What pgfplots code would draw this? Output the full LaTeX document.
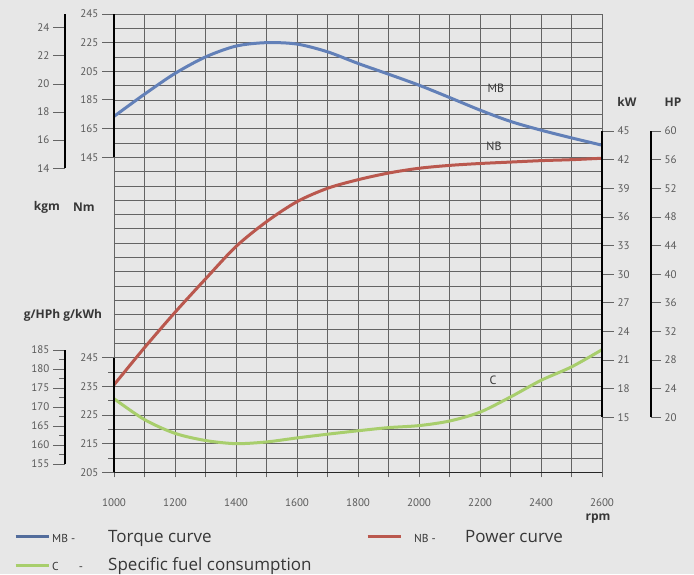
\documentclass[border=0pt]{standalone}
\usepackage{fontspec}
\setmainfont{Open Sans}
\newfontfamily\din{PT Sans}
\usepackage{pgfplots}
\pgfplotsset{compat=1.18}

\definecolor{bg}{RGB}{231,231,231}
\definecolor{gridc}{RGB}{100,100,100}
\definecolor{txt}{RGB}{90,90,90}
\definecolor{lbl}{RGB}{55,55,55}
\definecolor{mbblue}{RGB}{98,128,184}
\definecolor{nbred}{RGB}{186,88,78}
\definecolor{cgreen}{RGB}{168,206,108}

\pgfplotsset{
  /pgf/number format/assume math mode=true,
  /pgf/number format/set thousands separator={},
  tickfont/.style={font=\din\fontsize{11}{12}\selectfont, text=txt},
  overlayax/.style={scale only axis, at={(114pt,101.7pt)}, anchor=south west,
    width=488pt, height=458.3pt, xmin=1000, xmax=2600, axis lines=none},
  scaleax/.style={scale only axis, width=1pt, xmin=0, xmax=1, xtick=\empty,
    axis x line=none, tick align=outside,
    axis line style={black, line width=1.3pt},
    major tick style={gridc, line width=0.9pt},
    minor tick style={gridc, line width=0.9pt},
    major tick length=12pt, minor tick length=6pt,
    yticklabel style={tickfont}},
}

\begin{document}
\begin{tikzpicture}
\fill[bg] (0,0) rectangle (694pt,574pt);

% main grid + torque curve (Nm)
\begin{axis}[
  scale only axis, at={(114pt,101.7pt)}, anchor=south west,
  width=488pt, height=458.3pt,
  xmin=1000, xmax=2600, ymin=-75, ymax=245,
  xtick={1000,1100,...,2600}, xticklabels={},
  ytick={-75,-65,...,245}, yticklabels={},
  grid=major, major grid style={gridc, line width=0.7pt},
  axis line style={gridc, line width=0.7pt},
  major tick length=0pt, minor tick length=0pt,
  legend columns=2, legend cell align=left,
  legend style={at={(-0.211,-0.117)}, anchor=north west, draw=none, fill=none,
    font=\fontsize{17}{19}\selectfont, text=lbl, row sep=10pt},
  legend image code/.code={\draw[#1, line width=3pt] (0pt,0pt) -- (33pt,0pt);},
]
\addplot[mbblue, line width=3pt, smooth, tension=0.5, forget plot] coordinates {
  (1000,173.5) (1100,189.0) (1200,203.5) (1300,215.0) (1400,222.6)
  (1500,225.0) (1600,224.0) (1700,218.6) (1800,210.5) (1900,203.0)
  (2000,195.3) (2100,186.7) (2200,177.9) (2300,170.0) (2400,163.9)
  (2500,158.5) (2600,153.4)};
\node[font=\din\fontsize{12}{14}\selectfont, text=lbl] at (axis cs:2252,193.3) {MB};
\node[font=\din\fontsize{12}{14}\selectfont, text=lbl] at (axis cs:2246,152.7) {NB};
\addlegendimage{mbblue!85!black}
\addlegendentry{\makebox[56pt][l]{\din\fontsize{11.5}{12}\selectfont MB -}\makebox[256pt][l]{Torque curve}}
\addlegendimage{nbred}
\addlegendentry{\hspace{10pt}\makebox[51pt][l]{\din\fontsize{11.5}{12}\selectfont NB -}Power curve}
\addlegendimage{cgreen}
\addlegendentry{\makebox[56pt][l]{\din\fontsize{11.5}{12}\selectfont C\hspace{20pt}-}Specific fuel consumption}
\end{axis}

% rpm axis line, ticks and labels
\begin{axis}[scale only axis, at={(114pt,101.7pt)}, anchor=south west,
  width=488pt, height=10pt, xmin=1000, xmax=2600, ymin=0, ymax=1,
  axis y line=none, axis x line*=bottom,
  axis line style={black!85, line width=1pt},
  xtick={1000,1200,...,2600}, minor xtick={1100,1300,...,2500},
  tick align=outside, major tick length=5pt, minor tick length=5pt,
  tick style={gridc, line width=0.8pt},
  xticklabel style={tickfont, yshift=-18pt}]
\end{axis}

% power curve (kW)
\begin{axis}[overlayax, ymin=9.235, ymax=57.27]
\addplot[nbred, line width=3pt, smooth, tension=0.5] coordinates {
  (1000,18.4) (1100,22.3) (1200,26.0) (1300,29.5) (1400,32.9)
  (1500,35.5) (1600,37.6) (1700,39.0) (1800,39.9) (1900,40.6)
  (2000,41.1) (2100,41.4) (2200,41.6) (2300,41.75) (2400,41.9)
  (2500,42.0) (2600,42.15)};
\end{axis}

% specific fuel consumption (g/kWh)
\begin{axis}[overlayax, ymin=205, ymax=365]
\addplot[cgreen, line width=3pt, smooth, tension=0.5] coordinates {
  (1000,230.7) (1100,223.4) (1200,218.6) (1300,216.1) (1400,215.0)
  (1500,215.6) (1600,217.0) (1700,218.3) (1800,219.5) (1900,220.6)
  (2000,221.3) (2100,222.9) (2200,226.0) (2300,231.3) (2400,237.1)
  (2500,241.8) (2600,247.8)};
\node[font=\din\fontsize{12}{14}\selectfont, text=lbl] at (axis cs:2243,237.2) {C};
\end{axis}

% Nm scale
\begin{axis}[scaleax, at={(114pt,416.8pt)}, anchor=south west, height=143.2pt,
  axis y line*=left, ymin=145, ymax=245, ytick={145,165,...,245}]
\end{axis}
% kgm scale
\begin{axis}[scaleax, at={(65pt,405.8pt)}, anchor=south west, height=154.2pt,
  axis y line*=left, ymin=14, ymax=24.983, ytick={14,16,...,24}]
\end{axis}
% kW scale
\begin{axis}[scaleax, at={(602pt,156.7pt)}, anchor=south east, height=286.2pt,
  axis y line*=right, ymin=15, ymax=45, ytick={15,18,...,45}, major tick length=12pt]
\end{axis}
% HP scale
\begin{axis}[scaleax, at={(651pt,156.7pt)}, anchor=south east, height=286.2pt,
  axis y line*=right, ymin=20, ymax=60, ytick={20,24,...,60}, major tick length=10pt]
\end{axis}
% g/kWh scale
\begin{axis}[scaleax, at={(114pt,101.7pt)}, anchor=south west, height=114.6pt,
  axis y line*=left, ymin=205, ymax=245, ytick={205,215,...,245},
  minor ytick={210,220,...,240}]
\end{axis}
% g/HPh scale
\begin{axis}[scaleax, at={(65pt,110pt)}, anchor=south west, height=114pt,
  axis y line*=left, ymin=155, ymax=185, ytick={155,160,...,185},
  minor ytick={157.5,162.5,...,182.5}]
\end{axis}

\begin{scope}[font=\bfseries\fontsize{12}{14}\selectfont, text=lbl]
\node at (47pt,367pt) {kgm};
\node at (84pt,367pt) {Nm};
\node at (63pt,259pt) {g/HPh g/kWh};
\node at (627pt,472pt) {kW};
\node at (673pt,472pt) {HP};
\node at (598pt,55pt) {rpm};
\end{scope}

\pgfresetboundingbox
\path[use as bounding box] (0,0) rectangle (694pt,574pt);
\end{tikzpicture}
\end{document}
